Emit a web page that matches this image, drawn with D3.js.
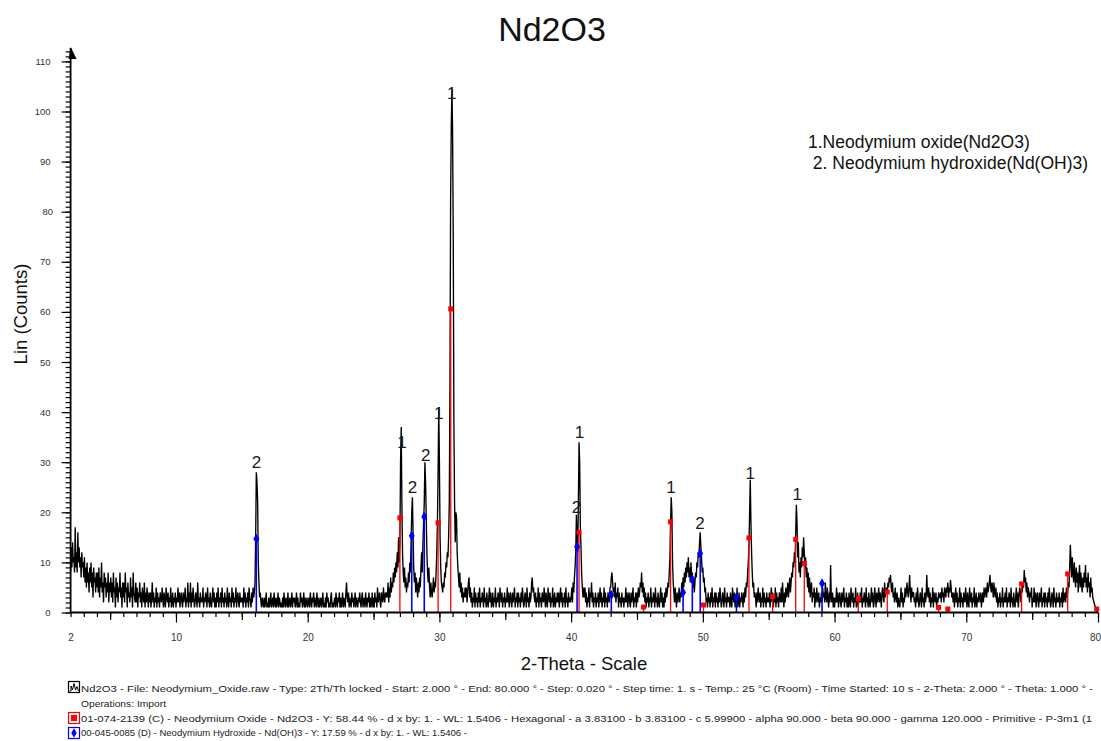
<!DOCTYPE html>
<html>
<head>
<meta charset="utf-8">
<script src="https://cdn.jsdelivr.net/npm/d3@7"></script>
<style>
  html, body { margin: 0; padding: 0; background: #fff; }
  svg { display: block; font-family: "Liberation Sans", Arial, sans-serif; }
</style>
</head>
<body>
<svg id="chart" width="1101" height="741"></svg>
<script>
// Scan: 2-theta from 2.00° to 80.00°, one row of readings per whole degree,
// each row holding the counts at 0.05° steps (deg + 0.00, deg + 0.05, ...).
const firstDegree = 2;
const thetaStep = 0.05;

const countRows = [
  [8, 13, 9, 14, 10, 11, 8, 17, 9, 12, 8, 16, 10, 13, 9, 11, 7, 12, 9, 10],            // 2
  [7, 11, 6, 9, 5, 10, 6, 8, 4, 9, 6, 10, 5, 8, 3, 9, 6, 7, 4, 8],                     // 3
  [5, 8, 4, 9, 3, 7, 5, 10, 4, 6, 2, 8, 5, 7, 3, 6, 4, 8, 2, 6],                       // 4
  [4, 7, 3, 6, 2, 8, 4, 5, 1, 7, 3, 6, 2, 5, 4, 8, 3, 5, 1, 6],                        // 5
  [3, 6, 2, 8, 4, 5, 1, 6, 3, 4, 2, 7, 3, 5, 1, 8, 4, 3, 2, 6],                        // 6
  [2, 5, 1, 4, 3, 6, 2, 4, 1, 5, 3, 2, 6, 1, 4, 2, 5, 3, 1, 4],                        // 7
  [2, 4, 1, 3, 6, 2, 4, 1, 3, 2, 5, 1, 4, 2, 3, 1, 4, 3, 2, 5],                        // 8
  [3, 1, 4, 2, 1, 5, 3, 2, 4, 1, 3, 2, 5, 1, 2, 4, 1, 3, 2, 4],                        // 9
  [1, 3, 2, 5, 2, 4, 1, 3, 4, 2, 1, 4, 2, 3, 5, 1, 3, 2, 6, 1],                        // 10
  [4, 2, 6, 1, 4, 2, 5, 3, 1, 2, 4, 3, 1, 6, 2, 3, 1, 4, 2, 3],                        // 11
  [2, 5, 1, 3, 2, 4, 3, 1, 5, 2, 3, 1, 4, 2, 1, 3, 5, 2, 4, 1],                        // 12
  [3, 1, 4, 2, 5, 1, 3, 2, 4, 1, 5, 2, 3, 1, 4, 2, 3, 1, 5, 2],                        // 13
  [1, 4, 2, 3, 1, 5, 2, 4, 1, 3, 2, 5, 1, 3, 4, 2, 1, 4, 2, 3],                        // 14
  [2, 3, 1, 5, 2, 4, 1, 3, 2, 4, 1, 5, 3, 2, 1, 4, 2, 5, 3, 4],                        // 15
  [6, 15, 28, 26, 22, 10, 6, 3, 4, 2, 1, 3, 2, 1, 3, 1, 2, 4, 1, 2],                   // 16
  [1, 3, 1, 2, 4, 1, 2, 3, 1, 4, 2, 1, 3, 1, 2, 4, 1, 3, 2, 1],                        // 17
  [2, 1, 3, 1, 4, 2, 1, 3, 2, 1, 4, 1, 2, 3, 1, 2, 4, 1, 3, 2],                        // 18
  [3, 1, 2, 4, 1, 3, 1, 2, 1, 4, 2, 3, 1, 2, 4, 1, 3, 1, 2, 3],                        // 19
  [1, 2, 3, 1, 4, 2, 1, 3, 2, 4, 1, 3, 2, 1, 4, 2, 1, 3, 1, 2],                        // 20
  [3, 1, 2, 4, 1, 2, 1, 3, 1, 4, 2, 3, 1, 2, 1, 3, 4, 1, 2, 1],                        // 21
  [2, 3, 1, 4, 2, 1, 3, 2, 4, 1, 3, 1, 2, 4, 1, 3, 2, 1, 4, 6],                        // 22
  [3, 2, 4, 1, 3, 2, 1, 4, 2, 3, 1, 2, 4, 1, 3, 2, 1, 3, 2, 4],                        // 23
  [2, 1, 3, 4, 1, 2, 3, 1, 4, 2, 1, 3, 2, 4, 1, 3, 1, 2, 4, 1],                        // 24
  [3, 1, 4, 2, 3, 1, 5, 2, 3, 4, 2, 1, 4, 3, 2, 5, 3, 2, 4, 3],                        // 25
  [4, 3, 6, 2, 5, 3, 7, 4, 6, 5, 8, 6, 9, 7, 10, 8, 12, 9, 15, 10],                    // 26
  [14, 30, 37, 22, 12, 8, 6, 9, 5, 7, 4, 6, 5, 8, 6, 10, 8, 14, 20, 23],               // 27
  [16, 9, 6, 8, 4, 7, 5, 3, 6, 4, 7, 5, 9, 12, 8, 14, 18, 22, 30, 26],                 // 28
  [19, 12, 8, 6, 9, 5, 3, 6, 4, 3, 5, 7, 4, 6, 5, 8, 12, 18, 28, 41],                  // 29
  [30, 15, 9, 6, 5, 4, 6, 5, 8, 7, 10, 9, 12, 11, 15, 22, 45, 82, 97, 104.5],          // 30
  [96, 75, 38, 22, 14, 20, 19, 12, 9, 7, 5, 8, 4, 6, 3, 5, 2, 4, 3, 5],                // 31
  [3, 5, 2, 4, 6, 7, 3, 5, 2, 4, 1, 3, 2, 5, 1, 4, 2, 3, 1, 4],                        // 32
  [2, 5, 1, 3, 2, 4, 3, 1, 5, 2, 3, 1, 4, 2, 1, 3, 5, 2, 4, 1],                        // 33
  [2, 4, 1, 3, 2, 5, 1, 3, 2, 4, 3, 1, 5, 3, 2, 4, 1, 3, 2, 4],                        // 34
  [1, 3, 2, 5, 2, 4, 1, 3, 4, 2, 1, 4, 2, 3, 5, 1, 3, 2, 4, 1],                        // 35
  [4, 2, 3, 1, 4, 2, 5, 3, 1, 2, 4, 3, 1, 5, 2, 3, 1, 4, 2, 3],                        // 36
  [6, 7, 4, 5, 3, 2, 4, 1, 3, 2, 5, 1, 4, 2, 3, 1, 4, 3, 2, 5],                        // 37
  [3, 1, 4, 2, 1, 5, 3, 2, 4, 1, 3, 2, 5, 1, 2, 4, 1, 3, 2, 4],                        // 38
  [2, 4, 1, 3, 5, 2, 4, 1, 3, 2, 4, 1, 5, 2, 3, 1, 4, 2, 3, 2],                        // 39
  [3, 5, 2, 6, 4, 7, 9, 12, 19.5, 14, 12, 22, 34, 30, 17, 13, 7.5, 5, 3, 5],           // 40
  [3, 5, 2, 4, 1, 3, 2, 5, 1, 4, 3, 6, 2, 4, 1, 3, 2, 4, 1, 3],                        // 41
  [2, 4, 1, 3, 5, 2, 4, 1, 3, 2, 5, 1, 4, 2, 3, 1, 4, 3, 2, 5],                        // 42
  [5, 7, 8, 6, 4, 5, 3, 6, 2, 4, 3, 5, 1, 4, 2, 3, 1, 4, 2, 3],                        // 43
  [1, 3, 2, 5, 2, 4, 1, 3, 4, 2, 1, 4, 2, 3, 5, 1, 3, 2, 4, 1],                        // 44
  [4, 2, 5, 3, 4, 6, 5, 8, 4, 6, 3, 5, 2, 4, 1, 3, 2, 4, 1, 3],                        // 45
  [2, 5, 1, 3, 2, 4, 3, 1, 5, 2, 3, 1, 4, 2, 1, 3, 5, 2, 4, 1],                        // 46
  [3, 1, 4, 2, 5, 3, 4, 6, 5, 8, 11, 18, 23, 20, 10, 6, 4, 2, 5, 3],                   // 47
  [1, 4, 2, 3, 5, 2, 4, 3, 6, 4, 7, 5, 8, 6, 9, 7, 10, 8, 11, 7],                      // 48
  [9, 6, 10, 7, 8, 5, 7, 4, 6, 8, 7, 10, 9, 12, 11, 14, 16, 13, 11, 8],                // 49
  [9, 6, 7, 4, 5, 2, 3, 1, 4, 2, 3, 1, 4, 2, 5, 1, 3, 2, 4, 1],                        // 50
  [4, 2, 3, 1, 4, 2, 5, 3, 1, 2, 4, 3, 1, 5, 2, 3, 1, 4, 2, 3],                        // 51
  [3, 1, 4, 2, 1, 5, 3, 2, 4, 1, 3, 2, 5, 1, 2, 4, 1, 3, 2, 4],                        // 52
  [3, 1, 4, 2, 5, 3, 6, 5, 8, 10, 13, 20, 26.5, 18, 12, 8, 5, 6, 3, 4],                // 53
  [3, 1, 4, 2, 5, 3, 2, 4, 1, 3, 2, 5, 1, 4, 2, 3, 1, 4, 2, 3],                        // 54
  [2, 4, 1, 3, 5, 2, 4, 1, 3, 2, 5, 1, 4, 2, 3, 1, 4, 3, 2, 5],                        // 55
  [2, 6, 3, 1, 4, 2, 5, 3, 4, 6, 3, 5, 7, 4, 6, 8, 7, 10, 9, 12],                      // 56
  [10, 16, 21.5, 18, 11, 14, 8, 10, 7, 11, 9, 13, 11, 15, 12, 9, 11, 7, 9, 5],         // 57
  [8, 4, 7, 3, 5, 6, 2, 4, 3, 5, 1, 4, 2, 5, 3, 2, 4, 1, 3, 2],                        // 58
  [4, 2, 5, 3, 4, 2, 6, 3, 2, 5, 3, 1, 4, 2, 9.5, 3, 2, 4, 1, 3],                      // 59
  [1, 3, 2, 5, 2, 4, 1, 3, 4, 2, 1, 4, 2, 3, 5, 1, 3, 2, 4, 1],                        // 60
  [3, 1, 4, 2, 1, 5, 3, 2, 4, 1, 3, 2, 5, 1, 2, 4, 1, 3, 2, 4],                        // 61
  [2, 5, 1, 3, 2, 4, 3, 1, 5, 2, 3, 1, 4, 2, 1, 3, 5, 2, 4, 1],                        // 62
  [2, 5, 3, 1, 4, 2, 3, 5, 2, 4, 3, 1, 4, 5, 3, 2, 6, 3, 4, 5],                        // 63
  [4, 6, 5, 7, 6, 7.5, 5, 4, 6, 3, 4, 2, 5, 3, 2, 4, 1, 3, 2, 1],                      // 64
  [3, 5, 2, 4, 1, 3, 2, 5, 3, 4, 6, 4, 3, 5, 7.5, 4, 2, 5, 3, 4],                      // 65
  [4, 2, 3, 1, 4, 2, 5, 3, 1, 2, 4, 3, 1, 5, 2, 3, 1, 4, 2, 3],                        // 66
  [7.5, 4, 3, 5, 2, 4, 1, 3, 2, 5, 1, 4, 3, 2, 4, 1, 3, 2, 4, 3],                      // 67
  [3, 4, 2, 5, 3, 4, 2, 5, 4, 3, 5, 4, 6, 3, 5, 4, 6.5, 5, 3, 4],                      // 68
  [2, 4, 1, 3, 5, 2, 4, 1, 3, 2, 5, 1, 4, 2, 3, 1, 4, 3, 2, 5],                        // 69
  [3, 1, 4, 2, 1, 5, 3, 2, 4, 1, 3, 2, 5, 1, 2, 4, 1, 3, 2, 4],                        // 70
  [3, 2, 4, 1, 3, 4, 2, 5, 3, 4, 5, 3, 6, 4, 5, 6, 7.5, 5, 4, 6],                      // 71
  [5, 3, 6, 4, 3, 5, 2, 4, 1, 3, 2, 4, 1, 3, 2, 5, 1, 3, 2, 4],                        // 72
  [2, 5, 1, 3, 2, 4, 3, 1, 5, 2, 3, 1, 4, 2, 1, 3, 5, 2, 4, 1],                        // 73
  [3, 5, 4, 2, 5, 4, 6, 5, 8.5, 6, 7, 4, 6, 3, 5, 4, 2, 4, 3, 5],                      // 74
  [1, 3, 2, 5, 2, 4, 1, 3, 4, 2, 1, 4, 2, 3, 5, 1, 3, 2, 4, 1],                        // 75
  [4, 2, 3, 1, 4, 2, 5, 3, 1, 2, 4, 3, 1, 5, 2, 3, 1, 4, 2, 3],                        // 76
  [2, 4, 1, 3, 2, 4, 1, 5, 2, 3, 4, 2, 5, 3, 4, 6, 5, 9, 13.5, 10],                    // 77
  [7, 11, 8, 6, 10, 7, 5, 9, 6, 8, 4, 7, 9.5, 5, 8, 6, 4, 7, 5, 8],                    // 78
  [6, 9.5, 5, 7, 4, 8, 5, 6, 3, 7, 4, 5, 3, 2.5, 2, 1.5, 1, 0.7, 0.4, 0.2],           // 79
  [0]                                                                                 // 80
];

// Reference pattern 01-074-2139, Nd2O3 (stick positions and heights)
const oxideTheta  = [27.0, 29.9, 30.86, 40.6, 45.5, 47.55, 50.05, 53.5, 55.3, 57.05, 57.7, 61.8, 64.0, 67.9, 68.6, 74.2, 77.7, 79.9];
const oxideCounts = [18.9, 17.9, 60.6, 16.0, 1.1, 18.1, 1.5, 14.9, 3.2, 14.6, 9.8, 2.8, 4.1, 1.0, 0.7, 5.7, 7.7, 0.7];

// Reference pattern 00-045-0085, Nd(OH)3
const hydroxideTheta  = [16.1, 27.9, 28.85, 40.45, 43.05, 48.5, 49.2, 49.8, 52.55, 59.05];
const hydroxideCounts = [14.7, 15.3, 19.1, 13.1, 3.5, 4.0, 6.6, 11.8, 3.0, 5.8];

// Phase identification marks over the peaks
const peakLabelTheta  = [16.12, 27.16, 27.95, 28.97, 29.94, 30.93, 40.63, 40.41, 47.59, 49.79, 53.59, 57.16];
const peakLabelCounts = [30.0, 34.1, 25.0, 31.4, 39.9, 103.7, 36.0, 21.1, 25.0, 17.9, 27.8, 23.6];
const peakLabelText   = ["2", "1", "2", "2", "1", "1", "1", "2", "1", "2", "1", "1"];

// Axis ticks
const xTickLabels = [2, 10, 20, 30, 40, 50, 60, 70, 80];
const yTickLabels = [0, 10, 20, 30, 40, 50, 60, 70, 80, 90, 100, 110];

const phaseNotes = ["1.Neodymium oxide(Nd2O3)", " 2. Neodymium hydroxide(Nd(OH)3)"];

const legendLines = [
  "Nd2O3 - File: Neodymium_Oxide.raw - Type: 2Th/Th locked - Start: 2.000 \u00b0 - End: 80.000 \u00b0 - Step: 0.020 \u00b0 - Step time: 1. s - Temp.: 25 \u00b0C (Room) - Time Started: 10 s - 2-Theta: 2.000 \u00b0 - Theta: 1.000 \u00b0 -",
  "Operations: Import",
  "01-074-2139 (C) - Neodymium Oxide - Nd2O3 - Y: 58.44 % - d x by: 1. - WL: 1.5406 - Hexagonal - a 3.83100 - b 3.83100 - c 5.99900 - alpha 90.000 - beta 90.000 - gamma 120.000 - Primitive - P-3m1 (1",
  "00-045-0085 (D) - Neodymium Hydroxide - Nd(OH)3 - Y: 17.59 % - d x by: 1. - WL: 1.5406 -"
];

// ---------- drawing ----------
const svg = d3.select("#chart");

const x = d3.scaleLinear().domain([2, 80]).range([70.6, 1098]);
const y = d3.scaleLinear().domain([0, 110]).range([612.5, 61.4]);
const y0 = y(0);

// Flatten the rows into (theta, counts) readings
const scan = countRows.flatMap((row, r) =>
  row.map((c, j) => ({ theta: firstDegree + r + j * thetaStep, counts: c })));

// Title
svg.append("text")
  .attr("x", 552).attr("y", 41)
  .attr("text-anchor", "middle")
  .attr("font-size", 34)
  .attr("fill", "#111")
  .text("Nd2O3");

// Measured pattern
const line = d3.line()
  .x(d => x(d.theta))
  .y(d => y(d.counts));

svg.append("path")
  .datum(scan)
  .attr("d", line)
  .attr("fill", "none")
  .attr("stroke", "#000")
  .attr("stroke-width", 1.35)
  .attr("stroke-linejoin", "bevel");

// Reference sticks
const oxide = oxideTheta.map((t, i) => ({ t, v: oxideCounts[i] }));
const hydroxide = hydroxideTheta.map((t, i) => ({ t, v: hydroxideCounts[i] }));

svg.append("g").selectAll("line").data(oxide).join("line")
  .attr("x1", d => x(d.t)).attr("x2", d => x(d.t))
  .attr("y1", y0).attr("y2", d => y(d.v))
  .attr("stroke", "#ff0000").attr("stroke-width", 1.3);

svg.append("g").selectAll("line").data(hydroxide).join("line")
  .attr("x1", d => x(d.t)).attr("x2", d => x(d.t))
  .attr("y1", y0).attr("y2", d => y(d.v))
  .attr("stroke", "#0000ff").attr("stroke-width", 1.6);

svg.append("g").selectAll("rect").data(oxide).join("rect")
  .attr("x", d => x(d.t) - 2.5).attr("y", d => y(d.v) - 2.5)
  .attr("width", 5).attr("height", 5)
  .attr("fill", "#ff0000");

const diamond = d3.symbol().type(d3.symbolDiamond).size(30);
svg.append("g").selectAll("path").data(hydroxide).join("path")
  .attr("transform", d => `translate(${x(d.t)},${y(d.v)})`)
  .attr("d", diamond)
  .attr("fill", "#0000ff");

// Phase marks
svg.append("g").selectAll("text")
  .data(peakLabelText.map((s, i) => ({ s, t: peakLabelTheta[i], v: peakLabelCounts[i] })))
  .join("text")
  .attr("x", d => x(d.t)).attr("y", d => y(d.v))
  .attr("dy", "0.35em")
  .attr("text-anchor", "middle")
  .attr("font-size", 17)
  .attr("fill", "#1a1a1a")
  .text(d => d.s);

// Y axis
const yMinor = d3.axisLeft(y).tickValues(d3.range(0, 113, 1)).tickSize(5).tickFormat("");
const yMajor = d3.axisLeft(y).tickValues(yTickLabels).tickSize(9).tickPadding(11);
[yMinor, yMajor].forEach(ax => {
  const g = svg.append("g").attr("transform", `translate(${x(2)},0)`).call(ax);
  g.select(".domain").remove();
  g.selectAll("line").attr("stroke", "#000").attr("stroke-width", 1.2);
  g.selectAll("text").attr("font-size", 9.5).attr("fill", "#333")
    .attr("font-family", "'Liberation Sans', Arial, sans-serif");
});
svg.append("line")
  .attr("x1", x(2)).attr("x2", x(2))
  .attr("y1", y0).attr("y2", 48)
  .attr("stroke", "#000").attr("stroke-width", 1.8);
svg.append("path")
  .attr("d", `M${x(2)},47 L${x(2) + 6},59 L${x(2) - 2},59 Z`)
  .attr("fill", "#000");

// X axis
const xMinor = d3.axisBottom(x).tickValues(d3.range(2, 81, 1)).tickSize(4.5).tickFormat("");
const xMid = d3.axisBottom(x).tickValues(d3.range(5, 80, 10)).tickSize(7.5).tickFormat("");
const xMajor = d3.axisBottom(x).tickValues(d3.range(10, 81, 10)).tickSize(10).tickFormat("");
const xText = d3.axisBottom(x).tickValues(xTickLabels).tickSize(0).tickPadding(21);
[xMinor, xMid, xMajor, xText].forEach(ax => {
  const g = svg.append("g").attr("transform", `translate(0,${y0})`).call(ax);
  g.select(".domain").remove();
  g.selectAll("line").attr("stroke", "#000").attr("stroke-width", 1.2);
  g.selectAll("text").attr("font-size", 10).attr("fill", "#333")
    .attr("font-family", "'Liberation Sans', Arial, sans-serif");
});
// the last label sits against the right edge, so it ends there instead of centring
svg.selectAll("g.tick text").filter(d => d === 80)
  .attr("text-anchor", "end").attr("dx", 2.5);
svg.append("line")
  .attr("x1", x(2)).attr("x2", x(80))
  .attr("y1", y0).attr("y2", y0)
  .attr("stroke", "#000").attr("stroke-width", 1.8);

// Axis titles
svg.append("text")
  .attr("x", 584).attr("y", 670)
  .attr("text-anchor", "middle")
  .attr("font-size", 18.5)
  .attr("fill", "#111")
  .text("2-Theta - Scale");

svg.append("text")
  .attr("transform", "translate(27,314) rotate(-90)")
  .attr("text-anchor", "middle")
  .attr("font-size", 18.5)
  .attr("fill", "#111")
  .text("Lin (Counts)");

// Phase key, upper right
svg.append("g").selectAll("text").data(phaseNotes).join("text")
  .attr("x", 808)
  .attr("y", (d, i) => 148 + i * 21)
  .attr("font-size", 17.5)
  .attr("fill", "#111")
  .attr("xml:space", "preserve")
  .style("white-space", "pre")
  .text(d => d);

// Scan / pattern legend at the bottom
const legendBase = [691.5, 706.5, 722, 736];
const legendWidth = [1012, 85, 1011, 386];
svg.append("g").selectAll("text").data(legendLines).join("text")
  .attr("x", 81)
  .attr("y", (d, i) => legendBase[i])
  .attr("font-size", 9)
  .attr("fill", "#222")
  .attr("textLength", (d, i) => legendWidth[i])
  .attr("lengthAdjust", "spacingAndGlyphs")
  .text(d => d);

// Legend icons
const icons = svg.append("g");
// measured scan icon
icons.append("rect").attr("x", 68.5).attr("y", 681.5).attr("width", 11).attr("height", 11)
  .attr("fill", "#fff").attr("stroke", "#000").attr("stroke-width", 1.2);
icons.append("path")
  .attr("d", "M69.5,691 L71,691 L71,686 L72.5,690 L74,683.5 L75.5,690 L77,686.5 L78.5,691")
  .attr("fill", "none").attr("stroke", "#000").attr("stroke-width", 1);
// oxide icon
icons.append("rect").attr("x", 68.5).attr("y", 712.5).attr("width", 11).attr("height", 11)
  .attr("fill", "#fff").attr("stroke", "#ff0000").attr("stroke-width", 1.2);
icons.append("rect").attr("x", 71).attr("y", 715).attr("width", 6).attr("height", 6)
  .attr("fill", "#ff0000");
// hydroxide icon
icons.append("rect").attr("x", 68.5).attr("y", 727.5).attr("width", 11).attr("height", 11)
  .attr("fill", "#fff").attr("stroke", "#0000ff").attr("stroke-width", 1.2);
icons.append("path")
  .attr("transform", "translate(74,733)")
  .attr("d", d3.symbol().type(d3.symbolDiamond).size(26)())
  .attr("fill", "#0000ff");
</script>
</body>
</html>
